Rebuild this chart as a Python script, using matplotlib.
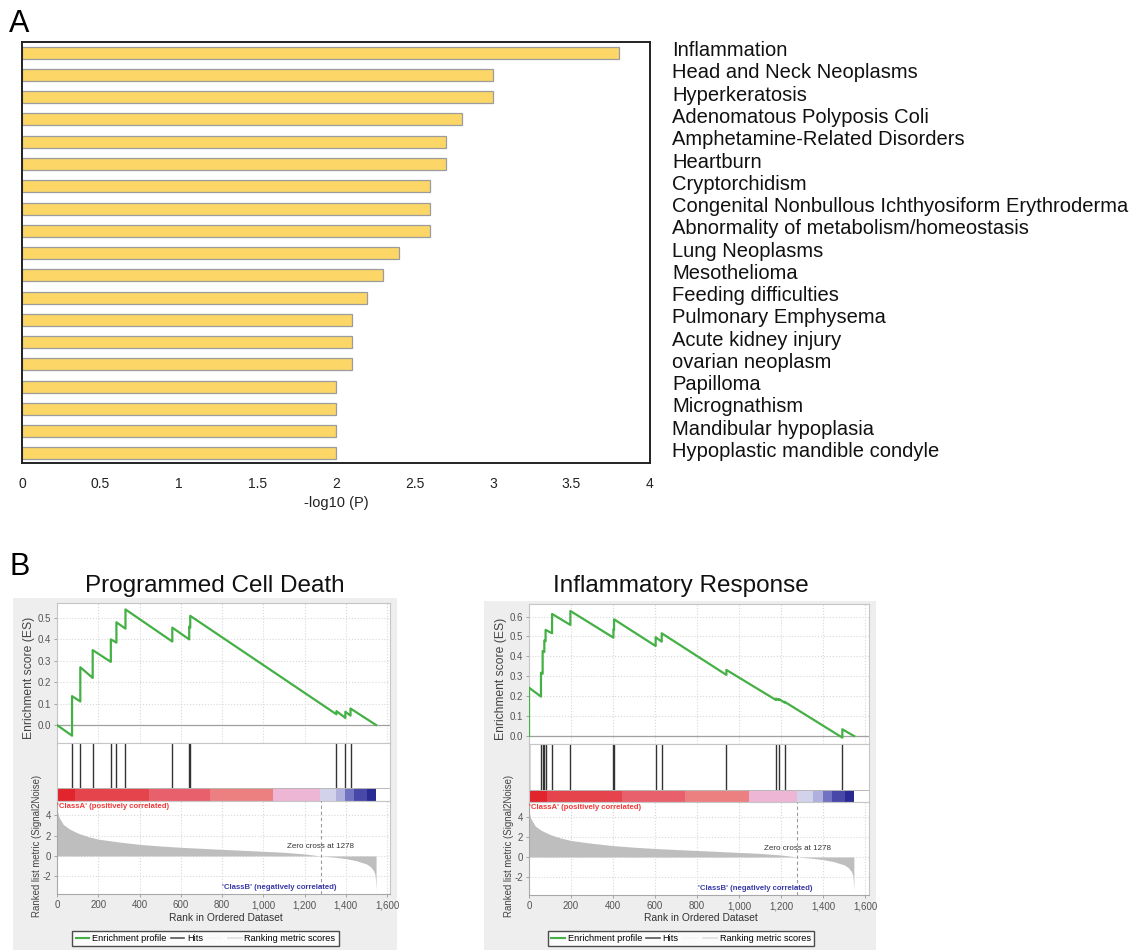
import matplotlib
matplotlib.use("Agg")
import matplotlib.pyplot as plt
from matplotlib.patches import Rectangle
from matplotlib.lines import Line2D
from matplotlib.transforms import ScaledTranslation
import numpy as np

W, H = 1134, 950
plt.rcParams['font.family'] = ['Liberation Sans', 'DejaVu Sans']
plt.rcParams['axes.unicode_minus'] = False

# ---------------- Panel A data ----------------
diseases = [
    "Inflammation", "Head and Neck Neoplasms", "Hyperkeratosis",
    "Adenomatous Polyposis Coli", "Amphetamine-Related Disorders", "Heartburn",
    "Cryptorchidism", "Congenital Nonbullous Ichthyosiform Erythroderma",
    "Abnormality of metabolism/homeostasis", "Lung Neoplasms", "Mesothelioma",
    "Feeding difficulties", "Pulmonary Emphysema", "Acute kidney injury",
    "ovarian neoplasm", "Papilloma", "Micrognathism", "Mandibular hypoplasia",
    "Hypoplastic mandible condyle",
]
neglog10p = [3.8, 3.0, 3.0, 2.8, 2.7, 2.7, 2.6, 2.6, 2.6, 2.4, 2.3, 2.2,
             2.1, 2.1, 2.1, 2.0, 2.0, 2.0, 2.0]
xticks_A = [0, 0.5, 1, 1.5, 2, 2.5, 3, 3.5, 4]
xticklabels_A = ["0", "0.5", "1", "1.5", "2", "2.5", "3", "3.5", "4"]

# ---------------- Panel B data ----------------
pcd_title = "Programmed Cell Death"
pcd_hits = [73, 113, 173, 261, 288, 332, 559, 641, 646, 1355, 1398, 1423]
pcd_es_rank = [0, 73, 73, 113, 113, 173, 173, 261, 261, 288, 288, 332, 332,
               559, 559, 641, 641, 646, 646, 1355, 1355, 1398, 1398,
               1423, 1423, 1547]
pcd_es = [0.0, -0.05, 0.135, 0.11, 0.27, 0.22, 0.35, 0.295, 0.40, 0.385, 0.48,
          0.45, 0.54, 0.39, 0.455, 0.40, 0.46, 0.455, 0.51, 0.05, 0.065,
          0.033, 0.062, 0.044, 0.077, 0.0]

ir_title = "Inflammatory Response"
ir_hits = [0, 57, 65, 73, 79, 110, 197, 402, 405, 603, 632, 940, 1176, 1190,
           1217, 1492]
ir_es_rank = [0, 0, 57, 57, 65, 65, 73, 73, 79, 79, 110, 110, 197, 197,
              402, 402, 405, 405, 603, 603, 632, 632, 940, 940, 1176, 1176,
              1190, 1190, 1217, 1217, 1492, 1492, 1548]
ir_es = [0.0, 0.243, 0.198, 0.318, 0.313, 0.427, 0.422, 0.48, 0.476, 0.533,
         0.516, 0.613, 0.558, 0.628, 0.494, 0.536, 0.534, 0.586, 0.452, 0.496,
         0.474, 0.516, 0.307, 0.332, 0.181, 0.188, 0.180, 0.186, 0.168, 0.172,
         -0.008, 0.034, 0.0]

metric_rank = [0, 3, 10, 30, 60, 100, 150, 200, 300, 400, 500, 600, 800,
               1000, 1100, 1200, 1278, 1350, 1400, 1450, 1500, 1520, 1535,
               1542, 1545, 1547]
metric_value = [4.8, 4.3, 3.8, 3.1, 2.65, 2.25, 1.9, 1.65, 1.37, 1.14, 0.98,
                0.85, 0.65, 0.46, 0.36, 0.2, 0.0, -0.13, -0.26, -0.46, -0.78,
                -1.05, -1.45, -1.85, -2.6, -3.35]
zero_cross = 1278
band_edges = [0, 86, 445, 742, 1046, 1276, 1354, 1398, 1441, 1503, 1547]
band_colors = ["#E2252D", "#E5444C", "#E8606C", "#EC8080", "#EDB6D4",
               "#D2D2EA", "#B0B0DC", "#7272C2", "#4848A8", "#2A2A94"]
rank_ticks = [0, 200, 400, 600, 800, 1000, 1200, 1400, 1600]
legend_labels = ["Enrichment profile", "Hits", "", "Ranking metric scores"]

fig = plt.figure(figsize=(W / 100, H / 100), dpi=100)


def box(x0, y0, x1, y1):
    return [x0 / W, 1 - y1 / H, (x1 - x0) / W, (y1 - y0) / H]


def fx(x):
    return x / W


def fy(y):
    return 1 - y / H


# ---------------- Panel A ----------------
fig.text(fx(9), fy(32), "A", fontsize=22, ha="left", va="baseline")
axA = fig.add_axes(box(22, 42, 650, 463))
ypos = np.arange(len(diseases))
axA.barh(ypos, neglog10p, height=0.54, color="#FCD667",
         edgecolor="#9C9C9C", linewidth=0.9, zorder=2)
axA.set_ylim(len(diseases) - 1 + 0.43, -0.48)
axA.set_xlim(0, 4)
axA.set_xticks(xticks_A)
axA.set_xticklabels(xticklabels_A)
axA.tick_params(axis="x", length=0, labelsize=10, pad=10, labelcolor="#222")
axA.yaxis.tick_right()
axA.set_yticks(ypos)
axA.set_yticklabels(diseases, fontsize=14.5, color="#111")
axA.tick_params(axis="y", length=0, pad=16)
shift = ScaledTranslation(0, 4 / 100, fig.dpi_scale_trans)
for lab in axA.get_yticklabels():
    lab.set_transform(lab.get_transform() + shift)
for s in axA.spines.values():
    s.set_linewidth(1.4)
    s.set_color("#222")
fig.text(fx(336), fy(503), "-log10 (P)", fontsize=10.5, ha="center",
         va="center", color="#222")

# ---------------- Panel B ----------------
fig.text(fx(9), fy(575), "B", fontsize=22, ha="left", va="baseline")


def gsea_panel(x0, x1, y_top, y_es_bot, y_band_top, y_hits_bot, y_rank_bot,
               bg, title, title_x, hits, es_rank, es_vals, es_ylim, es_ticks,
               xmax, rank_ylim, es_label_x, rank_label_x):
    fig.patches.append(Rectangle((fx(bg[0]), 0), fx(bg[1] - bg[0]),
                                 1 - bg[2] / H, transform=fig.transFigure,
                                 facecolor="#EEEEEE", edgecolor="none",
                                 zorder=-5))
    fig.text(fx(title_x), fy(592), title, fontsize=17.5, ha="center",
             va="baseline", color="#111")

    frame = "#C6C6C6"
    tick_kw = dict(labelsize=7, labelcolor="#555", color="#999",
                   length=2.5, width=0.6, pad=2)

    # ES panel
    ax1 = fig.add_axes(box(x0, y_top, x1, y_es_bot))
    ax1.plot(es_rank, es_vals, color="#45B045", lw=1.6, zorder=3)
    ax1.axhline(0, color="#A0A0A0", lw=0.9, zorder=2)
    ax1.set_xlim(0, xmax)
    ax1.set_ylim(*es_ylim)
    ax1.set_yticks(es_ticks)
    ax1.set_yticklabels([f"{t:.1f}" for t in es_ticks])
    ax1.set_xticks(rank_ticks)
    ax1.tick_params(axis="x", length=0, labelbottom=False)
    ax1.tick_params(axis="y", **tick_kw)
    ax1.grid(True, color="#D8D8D8", ls=":", lw=0.8)
    for s in ax1.spines.values():
        s.set_color(frame)
        s.set_linewidth(0.8)

    # hits + colour band
    ax2 = fig.add_axes(box(x0, y_es_bot, x1, y_hits_bot))
    bfrac = (y_hits_bot - y_band_top) / (y_hits_bot - y_es_bot)
    ax2.set_xlim(0, xmax)
    ax2.set_ylim(0, 1)
    ax2.vlines(hits, bfrac, 1, color="#333333", lw=1.0)
    lefts = band_edges[:-1]
    widths = np.diff(band_edges)
    ax2.bar(lefts, [bfrac] * len(lefts), width=widths, bottom=0,
            align="edge", color=band_colors, edgecolor="none")
    ax2.axhline(bfrac, color="#B8B8B8", lw=0.7)
    ax2.set_xticks([])
    ax2.set_yticks([])
    for s in ax2.spines.values():
        s.set_color(frame)
        s.set_linewidth(0.8)

    # ranked list metric
    ax3 = fig.add_axes(box(x0, y_hits_bot, x1, y_rank_bot))
    ax3.fill_between(metric_rank, metric_value, 0, color="#BEBEBE", lw=0,
                     zorder=2)
    ax3.axvline(zero_cross, color="#9A9A9A", lw=0.8, ls=(0, (3, 2.5)),
                zorder=3)
    ax3.set_xlim(0, xmax)
    ax3.set_ylim(*rank_ylim)
    ax3.set_yticks([-2, 0, 2, 4])
    ax3.set_xticks(rank_ticks)
    ax3.set_xticklabels([f"{t:,}" for t in rank_ticks])
    ax3.tick_params(axis="both", **tick_kw)
    ax3.grid(True, color="#D8D8D8", ls=":", lw=0.8, zorder=0)
    for side, s in ax3.spines.items():
        s.set_linewidth(0.8)
        s.set_color("#A8A8A8" if side in ("left", "bottom") else frame)
    ax3.text(2, rank_ylim[1] - 0.15, "'ClassA' (positively correlated)",
             fontsize=5.6, color="#F03A3A", fontweight="bold", ha="left",
             va="top")
    ax3.text(zero_cross, 0.9, "Zero cross at 1278", fontsize=5.8,
             color="#333333", ha="center", va="center")
    ax3.text(1076, -3.1, "'ClassB' (negatively correlated)", fontsize=5.6,
             color="#3A3AA8", fontweight="bold", ha="center", va="center")

    fig.text(fx(es_label_x), fy((y_top + y_es_bot) / 2 + 5),
             "Enrichment score (ES)", rotation=90, fontsize=8.7,
             color="#444", ha="center", va="center")
    fig.text(fx(rank_label_x), fy(846), "Ranked list metric (Signal2Noise)",
             rotation=90, fontsize=6.9, color="#444", ha="center",
             va="center")
    fig.text(fx((x0 + x1) / 2 + 2), fy(918), "Rank in Ordered Dataset",
             fontsize=7.4, color="#333", ha="center", va="center")

    handles = [Line2D([], [], color="#45B045", lw=1.5),
               Line2D([], [], color="#555555", lw=1.2),
               Line2D([], [], color="#F4F4F4", lw=1.2),
               Line2D([], [], color="#DDDDDD", lw=1.2)]
    leg = fig.legend(handles, legend_labels, loc="upper center",
                     bbox_to_anchor=(fx((x0 + x1) / 2 - 18), fy(931)),
                     ncol=4, fontsize=6.6, frameon=True, fancybox=False,
                     edgecolor="#222", handlelength=1.5, handletextpad=0.3,
                     columnspacing=0.45, borderpad=0.35, borderaxespad=0)
    leg.get_frame().set_linewidth(1.0)


gsea_panel(57, 390, 603, 743, 788, 801, 894, (13, 397, 598),
           pcd_title, 215, pcd_hits, pcd_es_rank, pcd_es,
           (-0.084, 0.570), [0.0, 0.1, 0.2, 0.3, 0.4, 0.5], 1614.5,
           (-3.73, 5.39), 29, 37)

gsea_panel(529, 869, 604, 744, 790, 802, 895, (484, 876, 601),
           ir_title, 681, ir_hits, ir_es_rank, ir_es,
           (-0.040, 0.663), [0.0, 0.1, 0.2, 0.3, 0.4, 0.5, 0.6], 1619,
           (-3.8, 5.5), 501, 509)

fig.savefig("out.png", dpi=100)
